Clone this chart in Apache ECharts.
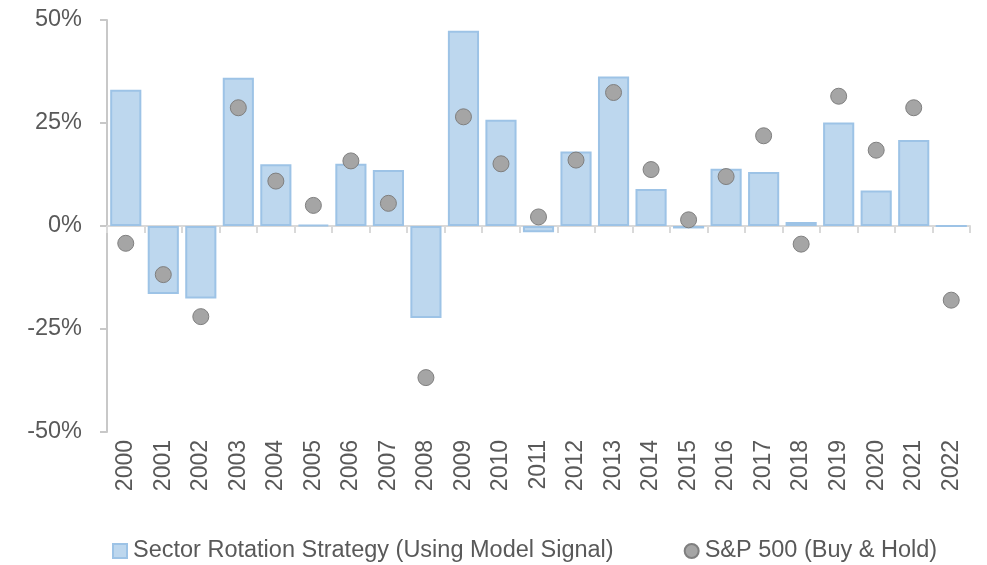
<!DOCTYPE html>
<html>
    <head>
        <meta charset="utf-8">
        <title></title>
        <script src="https://cdn.jsdelivr.net/npm/echarts@6/dist/echarts.min.js"></script>
        <style>
            html, body { margin: 0; padding: 0; background: #fff; }
        </style>
    </head>
    <body>
    <div id="main" style="width: 987px;height:565px;"></div>
    <script type="text/javascript">
        var years = ['2000','2001','2002','2003','2004','2005','2006','2007','2008','2009','2010','2011',
                     '2012','2013','2014','2015','2016','2017','2018','2019','2020','2021','2022']
        // 策略收益 (%)
        var strategy = [33.1, -16.5, -17.6, 36.0, 15.0, 0.3, 15.1, 13.6, -22.3, 47.4, 25.8, -1.5,
                        18.1, 36.3, 9.0, -0.6, 13.9, 13.1, 1.0, 25.1, 8.6, 20.9, 0]
        // 标普500 买入持有 (%)
        var sp500 = [-4.2, -11.8, -22.0, 28.7, 10.9, 5.0, 15.8, 5.5, -36.8, 26.5, 15.1, 2.2,
                     16.0, 32.4, 13.7, 1.5, 12.0, 21.9, -4.4, 31.5, 18.4, 28.7, -18.0]
        var yTicks = [-50, -25, 0, 25, 50]

        var font = 'Liberation Sans'
        var textColor = '#595959'
        var myChart = echarts.init(document.getElementById('main'))

        var option = {
            animation: false,
            grid: { left: 107, right: 17, top: 20, bottom: 133 },
            legend: {
                top: 534,
                left: 107,
                itemWidth: 14,
                itemHeight: 14,
                itemGap: 70,
                textStyle: { fontFamily: font, fontSize: 23.5, color: textColor, padding: [0, 0, 0, 1] },
                data: [
                    { name: 'Sector Rotation Strategy (Using Model Signal)', icon: 'rect' },
                    { name: 'S&P 500 (Buy & Hold)', icon: 'circle' }
                ]
            },
            xAxis: [{
                type: 'category',
                data: years,
                axisLine: { onZero: true, lineStyle: { color: '#d9d9d9', width: 2 } },
                axisTick: { show: true, length: 7, lineStyle: { color: '#d9d9d9', width: 2 } },
                axisLabel: { show: false }
            }, {
                type: 'category',
                data: years,
                position: 'bottom',
                axisLine: { show: false },
                axisTick: { show: false },
                axisLabel: {
                    rotate: 90,
                    margin: 8,
                    fontFamily: font,
                    fontSize: 23,
                    color: textColor
                }
            }],
            yAxis: {
                type: 'value',
                min: yTicks[0],
                max: yTicks[yTicks.length - 1],
                interval: 25,
                splitLine: { show: false },
                axisLine: { show: true, lineStyle: { color: '#c8c8c8', width: 2 } },
                axisTick: { show: true, length: 7, lineStyle: { color: '#c8c8c8', width: 2 } },
                axisLabel: {
                    margin: 25,
                    fontFamily: font,
                    fontSize: 23.5,
                    color: textColor,
                    formatter: function (v) { return v + '%' }
                }
            },
            series: [{
                name: 'Sector Rotation Strategy (Using Model Signal)',
                type: 'bar',
                data: strategy,
                barCategoryGap: '17%',
                itemStyle: { color: '#bdd7ee', borderColor: '#9dc3e6', borderWidth: 2 }
            }, {
                name: 'S&P 500 (Buy & Hold)',
                type: 'scatter',
                data: sp500,
                symbolSize: 16,
                itemStyle: { color: '#a5a5a5', borderColor: '#7f7f7f', borderWidth: 1, opacity: 1 },
                z: 5
            }]
        }
        myChart.setOption(option)
    </script>
    </body>
</html>
